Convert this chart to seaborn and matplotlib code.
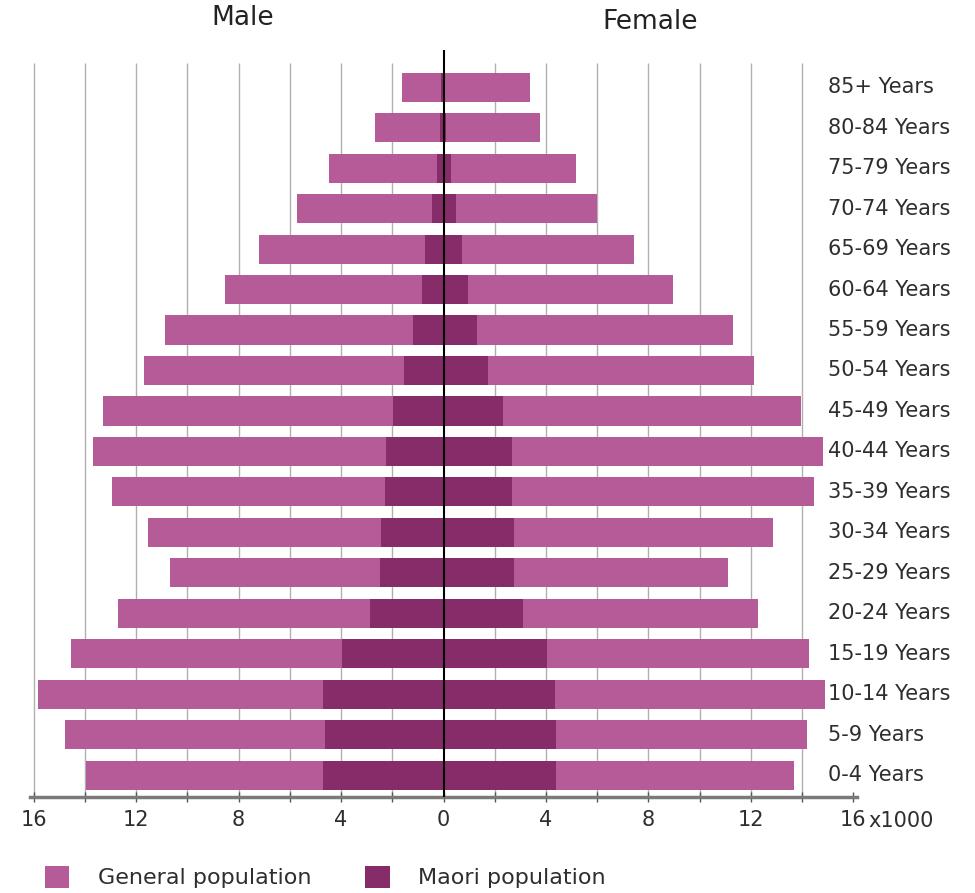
import numpy as np
import pandas as pd
import matplotlib
matplotlib.use("Agg")
import matplotlib.pyplot as plt
import matplotlib.transforms as mtransforms
from matplotlib.patches import Patch
import seaborn as sns

# ---- data (thousands) ----
ages = ["85+ Years", "80-84 Years", "75-79 Years", "70-74 Years", "65-69 Years",
        "60-64 Years", "55-59 Years", "50-54 Years", "45-49 Years", "40-44 Years",
        "35-39 Years", "30-34 Years", "25-29 Years", "20-24 Years", "15-19 Years",
        "10-14 Years", "5-9 Years", "0-4 Years"]
male_general = [1.62, 2.69, 4.49, 5.73, 7.19, 8.53, 10.87, 11.68, 13.30, 13.67,
                12.95, 11.55, 10.70, 12.70, 14.54, 15.84, 14.78, 13.96]
male_maori = [0.08, 0.12, 0.26, 0.45, 0.72, 0.84, 1.20, 1.56, 1.99, 2.25,
              2.30, 2.45, 2.47, 2.89, 3.95, 4.69, 4.62, 4.69]
female_general = [3.37, 3.77, 5.17, 6.00, 7.43, 8.98, 11.32, 12.12, 13.96, 14.84,
                  14.48, 12.85, 11.11, 12.27, 14.28, 14.89, 14.20, 13.68]
female_maori = [0.06, 0.10, 0.31, 0.50, 0.71, 0.96, 1.31, 1.73, 2.32, 2.67,
                2.67, 2.77, 2.77, 3.12, 4.05, 4.37, 4.39, 4.39]
tick_values = [-16, -12, -8, -4, 0, 4, 8, 12, 16]
tick_labels = ["16", "12", "8", "4", "0", "4", "8", "12", "16"]
unit_label = "x1000"
legend_labels = ["General population", "Maori population"]

GEN = "#B55C98"
MAO = "#862C68"
TXT = "#2E2E2E"

sns.set_style("white")
plt.rcParams["font.family"] = ["DejaVu Sans"]

df = pd.DataFrame({
    "age": ages,
    "male_general": -np.array(male_general),
    "male_maori": -np.array(male_maori),
    "female_general": np.array(female_general),
    "female_maori": np.array(female_maori),
})

fig = plt.figure(figsize=(9.75, 8.93), dpi=100)
ax = fig.add_axes([30 / 975, 1 - 797 / 893, 827 / 975, 747 / 893])

ylo, yhi = 17.54, -0.92
gx = np.arange(-16, 15, 2)
ax.vlines(gx[gx != 0], ymin=ylo, ymax=-0.59, color="#B0B0B0", lw=1, zorder=0)

for col, c in [("male_general", GEN), ("female_general", GEN),
               ("male_maori", MAO), ("female_maori", MAO)]:
    sns.barplot(data=df, x=col, y="age", order=ages, color=c, saturation=1,
                width=0.72, orient="h", ax=ax, zorder=2, linewidth=0,
                edgecolor="none")

ax.axvline(0, color="black", lw=1.5, zorder=5)

ax.set_xlim(-16.15, 16.15)
ax.set_ylim(ylo, yhi)
ax.set_xlabel("")
ax.set_ylabel("")
ax.set_yticks([])
for s in ["top", "left", "right"]:
    ax.spines[s].set_visible(False)
ax.spines["bottom"].set_color("#7A7A7A")
ax.spines["bottom"].set_linewidth(2.5)

ax.set_xticks(tick_values)
ax.set_xticklabels(tick_labels)
ax.set_xticks(np.arange(-16, 17, 2), minor=True)
ax.tick_params(axis="x", which="both", direction="inout", length=7, width=1,
               color="#555555", labelsize=15, labelcolor=TXT, pad=6, bottom=True)

trans = mtransforms.blended_transform_factory(ax.transData, ax.transAxes)
ax.text(16.58, -24 / 747, unit_label, transform=trans, ha="left", va="center",
        fontsize=15, color=TXT)

for i, a in enumerate(ages):
    ax.text(15.0, i, a, ha="left", va="center", fontsize=15, color=TXT)

fig.text(243 / 975, 1 - 18 / 893, "Male", ha="center", va="center", fontsize=19, color="#222222")
fig.text(650 / 975, 1 - 22 / 893, "Female", ha="center", va="center", fontsize=19, color="#222222")

handles = [Patch(facecolor=GEN, edgecolor="none"), Patch(facecolor=MAO, edgecolor="none")]
fig.legend(handles, legend_labels, loc="center left", bbox_to_anchor=(45 / 975, 16 / 893),
           ncol=2, frameon=False, fontsize=16, handlelength=1.1, handleheight=1.2,
           handletextpad=1.3, columnspacing=2.4, borderpad=0, borderaxespad=0,
           labelcolor=TXT)

fig.savefig("out.png", dpi=100)
